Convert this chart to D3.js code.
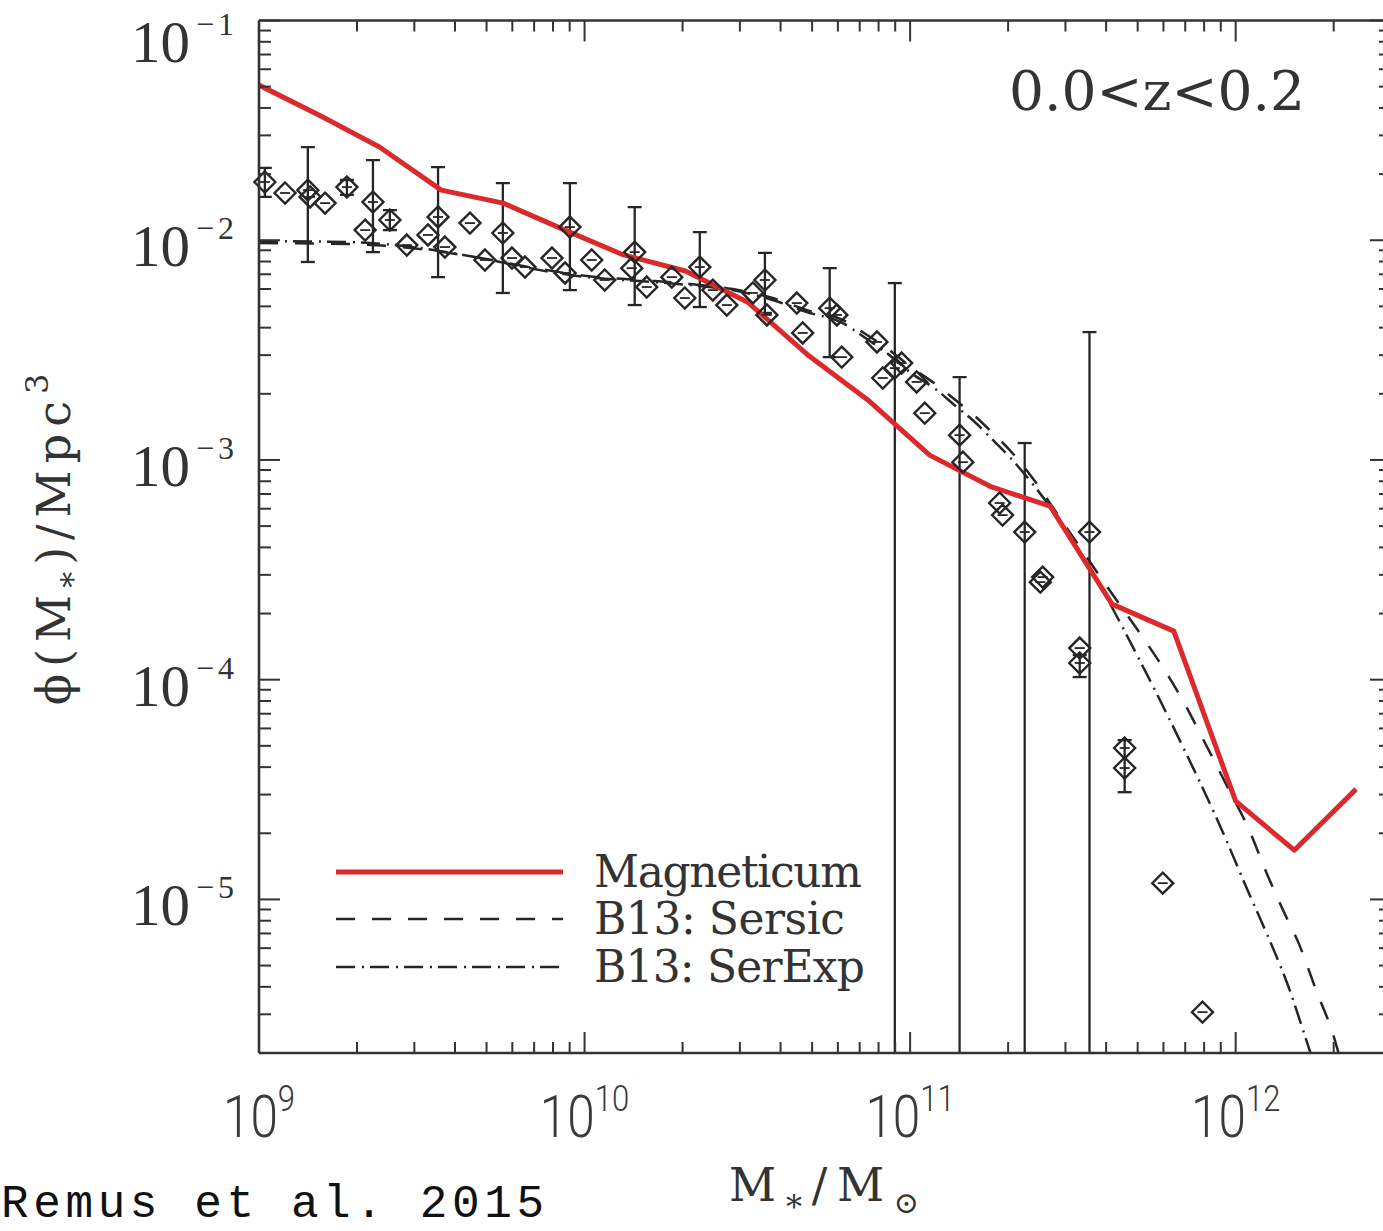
<!DOCTYPE html>
<html><head><meta charset="utf-8">
<script src="https://cdn.jsdelivr.net/npm/d3@7"></script>
<style>body{margin:0;background:#fff;} svg{display:block;}</style>
</head><body>
<svg id="c" width="1383" height="1231"></svg>
<script>
// ---------------- data ----------------
const xTickExps = [9, 10, 11, 12];
const yTickExps = [-1, -2, -3, -4, -5];
const xDomain = [1e9, 3e12];
const yDomain = [2e-6, 0.1];

const panelLabel = "0.0<z<0.2";
const legendLabels = ["Magneticum", "B13: Sersic", "B13: SerExp"];
const credit = "Remus et al. 2015";

// Magneticum (simulation) mass function
const magLogM = [9.00, 9.19, 9.37, 9.56, 9.75, 9.94, 10.12, 10.31, 10.50, 10.69, 10.87, 11.06, 11.25, 11.43, 11.62, 11.81, 12.00, 12.18, 12.37];
const magLogPhi = [-1.294, -1.435, -1.576, -1.772, -1.831, -1.954, -2.067, -2.140, -2.281, -2.527, -2.727, -2.978, -3.123, -3.210, -3.656, -3.779, -4.553, -4.776, -4.498];

// B13 Sersic fit (dashed)
const sersicLogM = [9.000, 9.270, 9.473, 9.679, 9.863, 10.007, 10.170, 10.323, 10.455, 10.578, 10.683, 10.793, 10.854, 10.937, 10.999, 11.082, 11.143, 11.192, 11.254, 11.306, 11.376, 11.444, 11.521, 11.591, 11.714, 11.776, 11.849, 11.889, 11.972, 12.043, 12.095, 12.144, 12.196, 12.248, 12.298, 12.322];
const sersicLogPhi = [-2.013, -2.017, -2.036, -2.081, -2.131, -2.163, -2.181, -2.199, -2.222, -2.263, -2.318, -2.363, -2.418, -2.500, -2.573, -2.659, -2.732, -2.791, -2.878, -2.955, -3.082, -3.228, -3.396, -3.547, -3.806, -3.943, -4.125, -4.239, -4.480, -4.689, -4.880, -5.044, -5.208, -5.417, -5.609, -5.731];

// B13 SerExp fit (dash-dot)
const serexpLogM = [9.000, 9.270, 9.473, 9.679, 9.863, 10.007, 10.170, 10.323, 10.455, 10.578, 10.683, 10.793, 10.854, 10.937, 10.999, 11.082, 11.143, 11.192, 11.254, 11.306, 11.367, 11.459, 11.582, 11.705, 11.828, 11.951, 12.043, 12.104, 12.166, 12.212, 12.242];
const serexpLogPhi = [-2.004, -2.008, -2.031, -2.081, -2.136, -2.168, -2.186, -2.204, -2.227, -2.272, -2.327, -2.377, -2.436, -2.523, -2.600, -2.682, -2.759, -2.818, -2.909, -2.987, -3.092, -3.274, -3.569, -3.911, -4.275, -4.662, -4.980, -5.185, -5.413, -5.618, -5.754];

// observational points (diamonds)
const obsLogM = [9.018, 9.080, 9.150, 9.157, 9.203, 9.270, 9.350, 9.326, 9.402, 9.454, 9.519, 9.550, 9.571, 9.648, 9.694, 9.749, 9.777, 9.817, 9.900, 9.940, 9.955, 10.022, 10.062, 10.154, 10.145, 10.191, 10.268, 10.308, 10.354, 10.394, 10.437, 10.517, 10.554, 10.560, 10.652, 10.670, 10.753, 10.775, 10.790, 10.898, 10.916, 10.953, 10.974, 11.020, 11.045, 11.152, 11.162, 11.275, 11.284, 11.352, 11.407, 11.400, 11.551, 11.521, 11.521, 11.659, 11.659, 11.776, 11.898];
const obsLogPhi = [-1.735, -1.785, -1.772, -1.803, -1.831, -1.758, -1.826, -1.954, -1.908, -2.022, -1.976, -1.894, -2.031, -1.922, -2.090, -1.967, -2.081, -2.122, -2.081, -2.149, -1.940, -2.090, -2.181, -2.054, -2.127, -2.213, -2.168, -2.263, -2.122, -2.227, -2.295, -2.240, -2.181, -2.340, -2.286, -2.422, -2.309, -2.340, -2.532, -2.463, -2.627, -2.582, -2.559, -2.645, -2.787, -2.887, -3.010, -3.196, -3.251, -3.328, -3.533, -3.556, -3.328, -3.856, -3.924, -4.311, -4.402, -4.926, -5.513];

// error bars
const errLogM = [9.018, 9.150, 9.270, 9.350, 9.402, 9.550, 9.749, 9.955, 10.154, 10.354, 10.554, 10.753, 10.953, 11.152, 11.352, 11.551, 11.521, 11.659];
const errLogHi = [-1.671, -1.576, -1.726, -1.635, -1.863, -1.667, -1.740, -1.740, -1.849, -1.963, -2.058, -2.127, -2.195, -2.623, -2.923, -2.418, -3.888, -4.275];
const errLogLo = [-1.803, -2.099, -1.794, -2.054, -1.954, -2.168, -2.240, -2.227, -2.295, -2.304, -2.331, -2.532, -7, -7, -7, -7, -3.988, -4.512];

// ---------------- drawing ----------------
const svg = d3.select("#c");
const L = 259, R = 1391, T = 20.5, B = 1053;
const x = d3.scaleLog().domain(xDomain).range([L, R]);
const y = d3.scaleLog().domain(yDomain).range([B, T]);
const p10 = v => Math.pow(10, v);
const ink = "#262626";
const red = "#dc2a2c";

svg.append("defs").append("clipPath").attr("id", "plotclip")
  .append("rect").attr("x", L).attr("y", T).attr("width", R - L).attr("height", B - T);

const plot = svg.append("g").attr("clip-path", "url(#plotclip)");

// model curves
const lineGen = d3.line().x(d => x(p10(d[0]))).y(d => y(p10(d[1])));
const smooth = d3.line().curve(d3.curveMonotoneX).x(d => x(p10(d[0]))).y(d => y(p10(d[1])));

plot.append("path").datum(d3.zip(serexpLogM, serexpLogPhi))
  .attr("d", smooth).attr("fill", "none").attr("stroke", ink)
  .attr("stroke-width", 2.5).attr("stroke-dasharray", "19,7,2,6");
plot.append("path").datum(d3.zip(sersicLogM, sersicLogPhi))
  .attr("d", smooth).attr("fill", "none").attr("stroke", ink)
  .attr("stroke-width", 2.5).attr("stroke-dasharray", "19,17");

// error bars
const eb = plot.append("g").attr("stroke", ink).attr("stroke-width", 2.3);
errLogM.forEach((m, i) => {
  const xx = x(p10(m)), y1 = y(p10(errLogHi[i])), y2 = y(p10(errLogLo[i]));
  eb.append("line").attr("x1", xx).attr("x2", xx).attr("y1", y1).attr("y2", y2);
  eb.append("line").attr("x1", xx - 7).attr("x2", xx + 7).attr("y1", y1).attr("y2", y1);
  eb.append("line").attr("x1", xx - 7).attr("x2", xx + 7).attr("y1", y2).attr("y2", y2);
});

// diamonds
const dg = svg.append("g").attr("fill", "none").attr("stroke", ink).attr("stroke-width", 2.4);
obsLogM.forEach((m, i) => {
  const g = dg.append("g").attr("transform", `translate(${x(p10(m))},${y(p10(obsLogPhi[i]))})`);
  g.append("path").attr("d", "M0,-10.5L10.5,0L0,10.5L-10.5,0Z");
  g.append("line").attr("x1", -5).attr("x2", 5).attr("y1", 0).attr("y2", 0).attr("stroke-width", 1.8);
});

// Magneticum line
plot.append("path").datum(d3.zip(magLogM, magLogPhi))
  .attr("d", lineGen).attr("fill", "none").attr("stroke", red)
  .attr("stroke-width", 5).attr("stroke-linejoin", "round");

// axes frame
const ax = svg.append("g").attr("stroke", "#333").attr("fill", "none");
ax.append("line").attr("x1", L).attr("x2", R).attr("y1", T).attr("y2", T).attr("stroke-width", 2.6);
ax.append("line").attr("x1", L).attr("x2", R).attr("y1", B).attr("y2", B).attr("stroke-width", 2.6);
ax.append("line").attr("x1", L).attr("x2", L).attr("y1", T).attr("y2", B).attr("stroke-width", 2.6);
ax.append("line").attr("x1", R).attr("x2", R).attr("y1", T).attr("y2", B).attr("stroke-width", 2.6);

const isMajor = v => Math.abs(Math.log10(v) - Math.round(Math.log10(v))) < 1e-9;
x.ticks().forEach(v => {
  const xx = x(v), len = isMajor(v) ? 21 : 11;
  ax.append("line").attr("x1", xx).attr("x2", xx).attr("y1", B).attr("y2", B - len).attr("stroke-width", 2);
  ax.append("line").attr("x1", xx).attr("x2", xx).attr("y1", T).attr("y2", T + len).attr("stroke-width", 2);
});
y.ticks().forEach(v => {
  const yy = y(v), len = isMajor(v) ? 21 : 12;
  ax.append("line").attr("x1", L).attr("x2", L + len).attr("y1", yy).attr("y2", yy).attr("stroke-width", 2);
  ax.append("line").attr("x1", R).attr("x2", R - len).attr("y1", yy).attr("y2", yy).attr("stroke-width", 2);
});

// tick labels
const txtCol = "#333";
xTickExps.forEach(e => {
  const g = svg.append("g").attr("transform", `translate(${x(p10(e))},1137) scale(0.84,1)`);
  const t = g.append("text").attr("x", 0).attr("y", 0)
    .attr("text-anchor", "middle").attr("fill", "#3a3a3a")
    .attr("font-family", "Roboto,'Open Sans',sans-serif")
    .attr("font-size", 59).attr("font-weight", 300);
  t.append("tspan").text("10");
  t.append("tspan").attr("dy", -26).attr("font-size", 37).text(e);
});
yTickExps.forEach(e => {
  const base = Math.max(y(p10(e)) + 26, 62);
  const t = svg.append("text").attr("x", 238).attr("y", base)
    .attr("text-anchor", "end").attr("fill", txtCol)
    .attr("font-family", "'Liberation Serif',serif").attr("font-size", 59);
  t.append("tspan").text("10");
  t.append("tspan").attr("dx", 6).attr("dy", -27).attr("font-size", 32)
    .attr("letter-spacing", 4).text("\u2212" + Math.abs(e));
});

// axis titles
const serif = "'DejaVu Serif','Liberation Serif',serif";
const xt = svg.append("text").attr("x", 729).attr("y", 1201)
  .attr("fill", txtCol)
  .attr("font-family", serif).attr("font-size", 46)
  .attr("textLength", 190).attr("lengthAdjust", "spacing");
xt.append("tspan").text("M");
xt.append("tspan").attr("dy", 17).attr("font-size", 32).text("*");
xt.append("tspan").attr("dy", -17).text("/M");
xt.append("tspan").attr("dy", 12).attr("font-size", 30).text("\u2299");

const yt = svg.append("text").attr("transform", "translate(70,536) rotate(-90)")
  .attr("text-anchor", "middle").attr("fill", txtCol)
  .attr("font-family", serif).attr("font-size", 46).attr("letter-spacing", 7);
yt.append("tspan").text("\u03D5(M");
yt.append("tspan").attr("dy", 14).attr("font-size", 32).text("*");
yt.append("tspan").attr("dy", -14).text(")/Mpc");
yt.append("tspan").attr("dy", -22).attr("font-size", 32).text("3");

// panel label
svg.append("text").attr("x", 1009).attr("y", 110).attr("fill", txtCol)
  .attr("font-family", serif).attr("font-size", 55)
  .attr("textLength", 296).attr("lengthAdjust", "spacing").text(panelLabel);

// legend
const legY = [872, 919, 967];
const legStyles = [
  {stroke: red, w: 5, dash: null},
  {stroke: ink, w: 2.5, dash: "19,17"},
  {stroke: ink, w: 2.5, dash: "19,7,2,6"}
];
const legLens = [268, 251, 271];
legendLabels.forEach((lab, i) => {
  const s = legStyles[i];
  svg.append("line").attr("x1", 336).attr("x2", 563).attr("y1", legY[i]).attr("y2", legY[i])
    .attr("stroke", s.stroke).attr("stroke-width", s.w).attr("stroke-dasharray", s.dash);
  svg.append("text").attr("x", 594).attr("y", legY[i] + 15).attr("fill", txtCol)
    .attr("font-family", serif).attr("font-size", 44)
    .attr("textLength", legLens[i]).attr("lengthAdjust", "spacing").text(lab);
});

// credit
svg.append("text").attr("x", 1).attr("y", 1217).attr("fill", "#111")
  .attr("font-family", "'Liberation Mono','DejaVu Sans Mono',monospace").attr("font-size", 46)
  .attr("textLength", 543).attr("lengthAdjust", "spacing").text(credit);
</script>
</body></html>
